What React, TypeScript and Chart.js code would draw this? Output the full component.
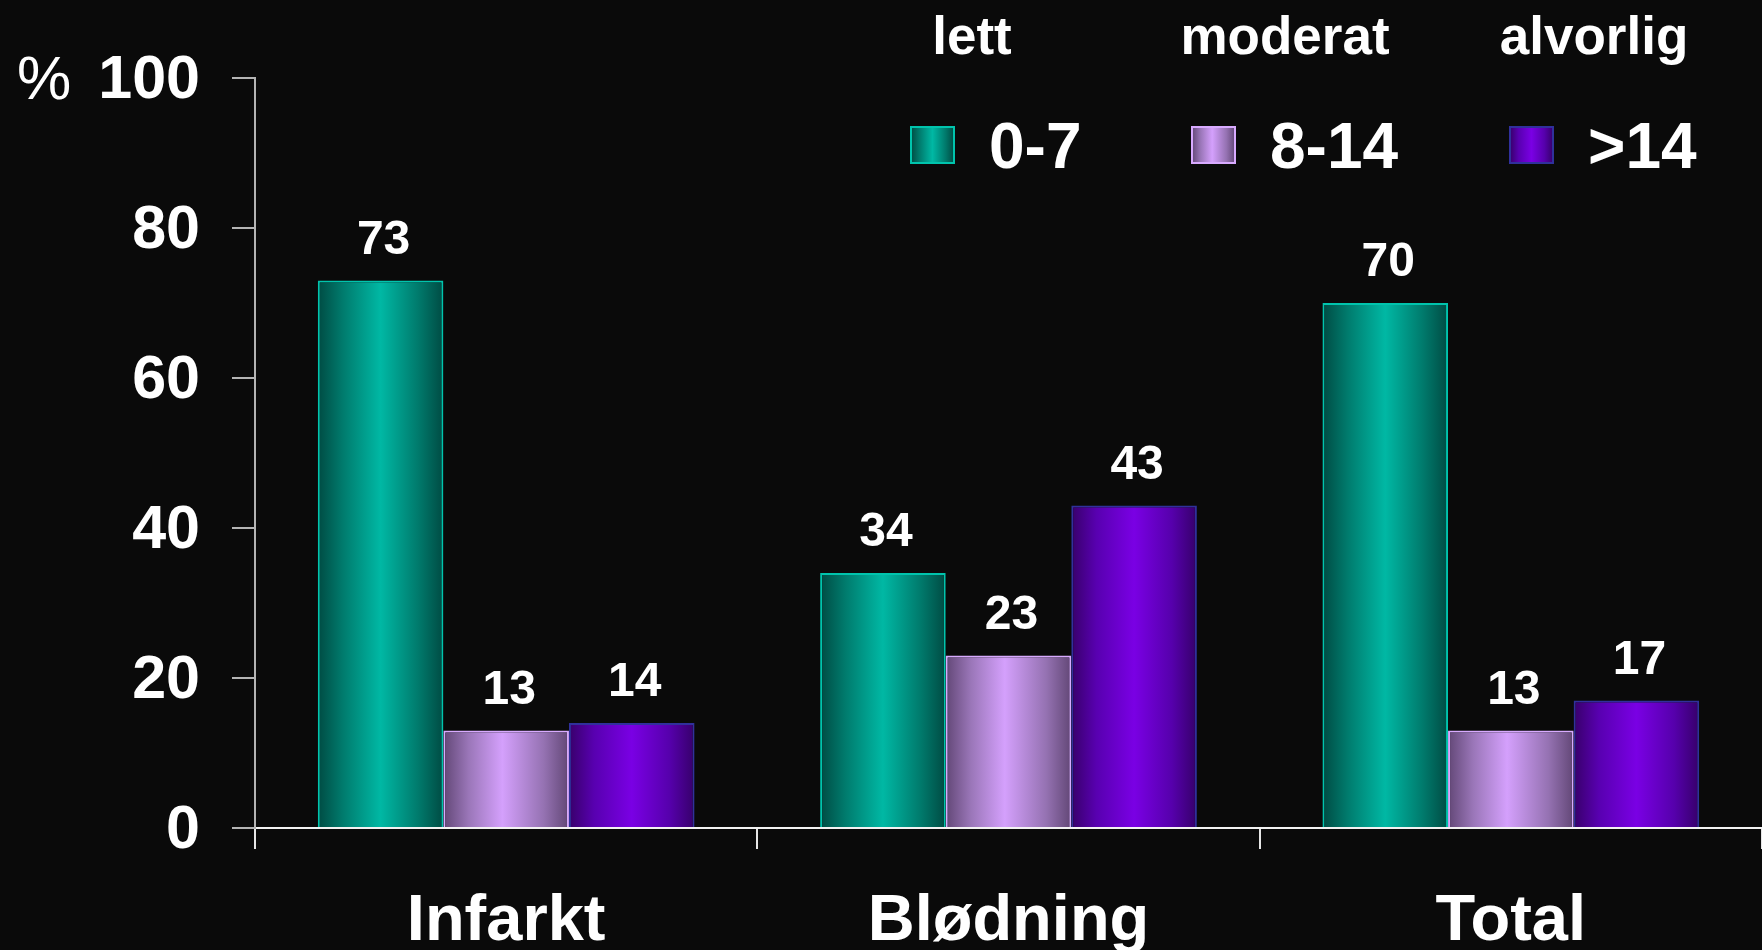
import React, { useEffect, useRef } from "react";
import { Chart, registerables } from "chart.js";

Chart.register(...registerables);

// ---- data ----
const categories = ["Infarkt", "Blødning", "Total"];
const seriesLabels = ["0-7", "8-14", ">14"];
const severityLabels = ["lett", "moderat", "alvorlig"];
const mildValues = [73, 34, 70];
const moderateValues = [13, 23, 13];
const severeValues = [14, 43, 17];
const yTicks = [0, 20, 40, 60, 80, 100];
const yUnit = "%";

// ---- styles ----
const FONT = '"Liberation Sans", Arial, Helvetica, sans-serif';
const BG = "#0a0a0a";

type Stop = [number, string];
const palettes: { stops: Stop[]; border: string }[] = [
  {
    stops: [
      [0, "#004b43"],
      [0.2, "#007b6d"],
      [0.5, "#00b8a4"],
      [0.8, "#007a6c"],
      [1, "#004b43"],
    ],
    border: "#00c4ad",
  },
  {
    stops: [
      [0, "#624776"],
      [0.2, "#9a76b8"],
      [0.47, "#d4a0fc"],
      [0.8, "#9572b2"],
      [1, "#624776"],
    ],
    border: "#d8aaff",
  },
  {
    stops: [
      [0, "#38006a"],
      [0.2, "#5800b0"],
      [0.5, "#7a00e4"],
      [0.8, "#5600ac"],
      [1, "#36006a"],
    ],
    border: "#30309c",
  },
];

function makeGradient(ctx: CanvasRenderingContext2D, x0: number, x1: number, stops: Stop[]) {
  const g = ctx.createLinearGradient(x0, 0, x1, 0);
  stops.forEach(([o, c]) => g.addColorStop(o, c));
  return g;
}

const bgPlugin = {
  id: "bgFill",
  beforeDraw(chart: any) {
    const { ctx, width, height } = chart;
    ctx.save();
    ctx.fillStyle = BG;
    ctx.fillRect(0, 0, width, height);
    ctx.restore();
  },
};

const gradientPlugin = {
  id: "barGradients",
  beforeDatasetsDraw(chart: any) {
    const ctx = chart.ctx;
    chart.data.datasets.forEach((_ds: any, di: number) => {
      const meta = chart.getDatasetMeta(di);
      meta.data.forEach((el: any) => {
        const left = el.x - el.width / 2;
        const right = el.x + el.width / 2;
        const g = makeGradient(ctx, left, right, palettes[di].stops);
        el.options = Object.assign({}, el.options, { backgroundColor: g });
      });
    });
  },
};

const valueLabelPlugin = {
  id: "valueLabels",
  afterDatasetsDraw(chart: any) {
    const ctx = chart.ctx;
    ctx.save();
    ctx.font = `bold 48px ${FONT}`;
    ctx.fillStyle = "#ffffff";
    ctx.textAlign = "center";
    ctx.textBaseline = "middle";
    chart.data.datasets.forEach((ds: any, di: number) => {
      chart.getDatasetMeta(di).data.forEach((el: any, i: number) => {
        ctx.fillText(String(ds.data[i]), el.x + 3, el.y - 40);
      });
    });
    ctx.restore();
  },
};

const legendPlugin = {
  id: "customLegend",
  afterDraw(chart: any) {
    const ctx = chart.ctx;
    const headerCenters = [972, 1285, 1594];
    const swatchX = [911, 1192, 1510];
    ctx.save();
    ctx.fillStyle = "#ffffff";
    // headers
    ctx.font = `bold 53px ${FONT}`;
    ctx.textAlign = "center";
    ctx.textBaseline = "middle";
    severityLabels.forEach((t, i) => ctx.fillText(t, headerCenters[i], 39));
    // items
    chart.data.datasets.forEach((ds: any, i: number) => {
      const x = swatchX[i];
      const y = 127;
      const w = 43;
      const h = 36;
      ctx.fillStyle = makeGradient(ctx, x, x + w, palettes[i].stops);
      ctx.fillRect(x, y, w, h);
      ctx.strokeStyle = palettes[i].border;
      ctx.lineWidth = 2;
      ctx.strokeRect(x, y, w, h);
      ctx.fillStyle = "#ffffff";
      ctx.font = `bold 64px ${FONT}`;
      ctx.textAlign = "left";
      ctx.textBaseline = "middle";
      ctx.fillText(ds.label, x + 78, 150);
    });
    // unit
    ctx.font = `61px ${FONT}`;
    ctx.textAlign = "center";
    ctx.fillText(yUnit, 44, 82);
    ctx.restore();
  },
};

export default function App() {
  const canvasRef = useRef<HTMLCanvasElement | null>(null);

  useEffect(() => {
    document.body.style.margin = "0";
    document.body.style.background = BG;
    document.body.style.overflow = "hidden";
    const canvas = canvasRef.current;
    if (!canvas) return;
    const seriesValues = [mildValues, moderateValues, severeValues];
    const chart = new Chart(canvas, {
      type: "bar",
      data: {
        labels: categories,
        datasets: seriesLabels.map((label, i) => ({
          label,
          data: seriesValues[i],
          backgroundColor: palettes[i].stops[2][1],
          borderColor: palettes[i].border,
          borderWidth: 2,
          borderSkipped: "bottom",
          categoryPercentage: 0.75,
          barPercentage: 1.0,
        })),
      },
      options: {
        animation: false,
        responsive: false,
        devicePixelRatio: 1,
        layout: { padding: { top: 78, left: 0, right: 0, bottom: 0 } },
        plugins: {
          legend: { display: false },
          tooltip: { enabled: false },
          title: { display: false },
        },
        scales: {
          x: {
            type: "category",
            afterFit: (s: any) => {
              s.height = 122;
            },
            grid: {
              display: true,
              drawOnChartArea: false,
              drawTicks: true,
              tickLength: 21,
              color: "#e6e6e6",
              lineWidth: 2,
              offset: true,
            },
            border: { display: true, color: "#f2f2f2", width: 2 },
            ticks: {
              color: "#ffffff",
              font: { family: FONT, size: 65, weight: "bold" },
              padding: 34,
              maxRotation: 0,
            },
          },
          y: {
            min: 0,
            max: 100,
            afterFit: (s: any) => {
              s.width = 255;
            },
            afterBuildTicks: (s: any) => {
              s.ticks = yTicks.map((v) => ({ value: v }));
            },
            grid: {
              display: true,
              drawOnChartArea: false,
              drawTicks: true,
              tickLength: 23,
              color: "#b4b4b4",
              lineWidth: 2,
            },
            border: { display: true, color: "#b4b4b4", width: 2 },
            ticks: {
              color: "#ffffff",
              font: { family: FONT, size: 61, weight: "bold" },
              padding: 32,
              labelOffset: 3,
            },
          },
        },
      },
      plugins: [bgPlugin, gradientPlugin, valueLabelPlugin, legendPlugin],
    } as any);
    return () => chart.destroy();
  }, []);

  return (
    <div style={{ width: 1762, height: 950, background: BG }}>
      <canvas ref={canvasRef} width={1762} height={950} style={{ display: "block", width: 1762, height: 950 }} />
    </div>
  );
}
